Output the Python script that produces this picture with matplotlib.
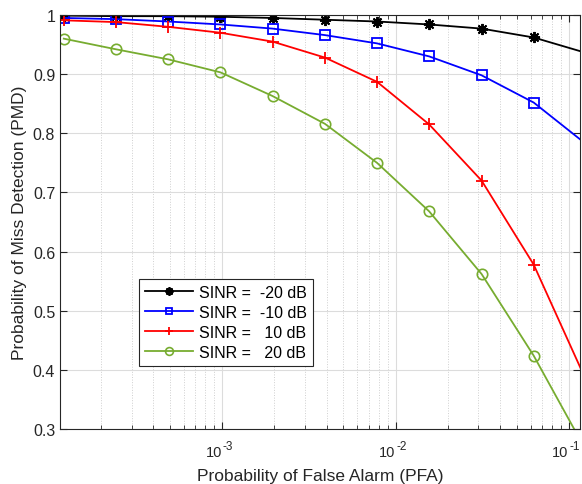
import numpy as np
import matplotlib
matplotlib.use("Agg")
import matplotlib.pyplot as plt
from matplotlib.ticker import LogLocator, NullFormatter, FixedLocator

plt.rcParams['font.family'] = ['Liberation Sans', 'DejaVu Sans']

# false alarm probabilities (2^-13 ... 2^-3)
pfa = [1.22e-4, 2.44e-4, 4.88e-4, 9.77e-4, 1.95e-3, 3.91e-3,
       7.81e-3, 1.56e-2, 3.13e-2, 6.25e-2, 1.25e-1]

pmd_m20 = [0.999, 0.998, 0.998, 0.997, 0.995, 0.992, 0.989, 0.984, 0.977, 0.962, 0.936]
pmd_m10 = [0.995, 0.993, 0.989, 0.984, 0.977, 0.966, 0.952, 0.930, 0.898, 0.852, 0.782]
pmd_p10 = [0.991, 0.988, 0.980, 0.970, 0.955, 0.928, 0.887, 0.815, 0.720, 0.578, 0.383]
pmd_p20 = [0.960, 0.942, 0.925, 0.903, 0.863, 0.816, 0.750, 0.668, 0.562, 0.424, 0.264]

labels = ['SINR =  -20 dB', 'SINR =  -10 dB', 'SINR =   10 dB', 'SINR =   20 dB']

# x tick decades and exponents
xmajor = [1e-3, 1e-2, 1e-1]
xexp = ['-3', '-2', '-1']

fig = plt.figure(figsize=(5.82, 4.85), dpi=100)
ax = fig.add_axes([60/582, 1 - 430/485, 520/582, 414/485])

ax.plot(pfa, pmd_m20, '-', marker=(8, 2, 0), color='k', lw=1.3, ms=8, mew=1.4, label=labels[0])
ax.plot(pfa, pmd_m10, '-s', color='#0000ff', lw=1.3, ms=6.5, mfc='none', mew=1.3, label=labels[1])
ax.plot(pfa, pmd_p10, '-+', color='#ff0000', lw=1.3, ms=8, mew=1.3, label=labels[2])
ax.plot(pfa, pmd_p20, '-o', color='#77ac30', lw=1.3, ms=7.5, mfc='none', mew=1.2, label=labels[3])

ax.set_xscale('log')
ax.set_xlim(1.16e-4, 0.1156)
ax.set_ylim(0.3, 1.0)
ax.set_yticks([0.3, 0.4, 0.5, 0.6, 0.7, 0.8, 0.9, 1.0])
ax.set_yticklabels(['0.3', '0.4', '0.5', '0.6', '0.7', '0.8', '0.9', '1'])
ax.xaxis.set_major_locator(FixedLocator(xmajor))
ax.xaxis.set_minor_locator(LogLocator(base=10, subs=np.arange(2, 10), numticks=20))
ax.xaxis.set_minor_formatter(NullFormatter())
ax.set_xticklabels([])

# MATLAB-style 10^n labels: base plus small raised exponent
for xv, ex in zip(xmajor, xexp):
    ax.annotate('10', xy=(xv, 0), xycoords=('data', 'axes fraction'),
                xytext=(-0.3, -19.4), textcoords='offset points',
                ha='right', va='baseline', fontsize=10.5, color='#262626')
    ax.annotate(ex, xy=(xv, 0), xycoords=('data', 'axes fraction'),
                xytext=(0.3, -14.2), textcoords='offset points',
                ha='left', va='baseline', fontsize=8.5, color='#262626')

ax.grid(True, which='major', color='#dcdcdc', lw=0.8)
ax.grid(True, which='minor', axis='x', color='#cfcfcf', lw=0.7, ls=':')
ax.set_axisbelow(True)

ax.tick_params(which='both', direction='in', top=True, right=True, labelsize=11.5, colors='#262626')
ax.tick_params(which='major', length=5)
ax.tick_params(which='minor', length=3)
for s in ax.spines.values():
    s.set_color('#262626')
    s.set_linewidth(0.8)

ax.set_xlabel('Probability of False Alarm (PFA)', fontsize=12.5, color='#262626')
ax.xaxis.set_label_coords(0.5, -0.093)
ax.set_ylabel('Probability of Miss Detection (PMD)', fontsize=12.5, color='#262626')

leg = ax.legend(loc='upper left', bbox_to_anchor=(0.152, 0.362), fontsize=11.5,
                fancybox=False, edgecolor='#262626', framealpha=1, markerscale=0.75,
                handlelength=3.0, borderpad=0.35, labelspacing=0.32, handletextpad=0.4,
                borderaxespad=0)
leg.get_frame().set_linewidth(0.8)

fig.savefig('out.png', dpi=100)
